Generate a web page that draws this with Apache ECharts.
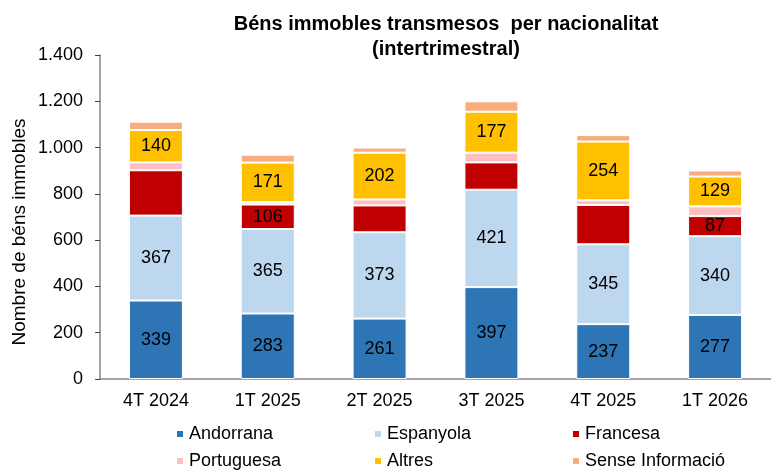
<!DOCTYPE html>
<html>
<head>
<meta charset="utf-8">
<script src="https://cdn.jsdelivr.net/npm/echarts@6/dist/echarts.min.js"></script>
<style>
  html, body { margin: 0; padding: 0; background: #fff; }
  #chart { width: 771px; height: 470px; }
</style>
</head>
<body>
<div id="chart"></div>
<script>
const categories = ["4T 2024", "1T 2025", "2T 2025", "3T 2025", "4T 2025", "1T 2026"];

const andorrana = [339, 283, 261, 397, 237, 277];
const espanyola = [367, 365, 373, 421, 345, 340];
const francesa = [196, 106, 116, 118, 170, 87];
const portuguesa = [34, 10, 26, 42, 20, 42];
const altres = [140, 171, 202, 177, 254, 129];
const senseInfo = [36, 34, 22, 45, 28, 26];

// only these Francesa values carry a label in the original
const francesaLabelIdx = [1, 5];

const yTicks = [0, 200, 400, 600, 800, 1000, 1200, 1400];

const font = "Liberation Sans, Arial, sans-serif";

const fmtThousands = v => String(v).replace(/\B(?=(\d{3})+(?!\d))/g, ".");

const labelStyle = {
    show: true,
    position: "inside",
    color: "#000",
    fontSize: 18,
    fontFamily: font
};

function barSeries(name, data, color, withLabel) {
    return {
        name: name,
        type: "bar",
        stack: "total",
        barWidth: 54,
        data: data,
        itemStyle: { color: color, borderColor: "#fff", borderWidth: 1 },
        label: withLabel ? labelStyle : { show: false }
    };
}

// one legend per entry: 3 columns x 2 rows like the original
function legendAt(name, left, top) {
    return {
        data: [name],
        left: left,
        top: top,
        padding: 0,
        itemWidth: 8,
        itemHeight: 8,
        icon: "rect",
        textStyle: { fontSize: 18, fontFamily: font, color: "#000", padding: [0, 0, 0, 0] }
    };
}

const chart = echarts.init(document.getElementById("chart"));

const option = {
    animation: false,
    backgroundColor: "#fff",
    title: {
        text: "Béns immobles transmesos  per nacionalitat\n(intertrimestral)",
        left: 441,
        textAlign: "center",
        top: 7,
        textStyle: { fontSize: 20, fontWeight: "bold", fontFamily: font, color: "#000", lineHeight: 25 }
    },
    legend: [
        legendAt("Andorrana", 175, 425),
        legendAt("Espanyola", 373, 425),
        legendAt("Francesa", 571, 425),
        legendAt("Portuguesa", 175, 452),
        legendAt("Altres", 373, 452),
        legendAt("Sense Informació", 571, 452)
    ],
    graphic: [{
        type: "text",
        x: 10,
        y: 232,
        rotation: Math.PI / 2,
        style: {
            text: "Nombre de béns immobles",
            fontSize: 19,
            fontFamily: font,
            fill: "#000",
            align: "center",
            verticalAlign: "top"
        }
    }],
    grid: { left: 100, top: 55, width: 672, height: 324 },
    xAxis: {
        type: "category",
        data: categories,
        axisLine: { lineStyle: { color: "#868686", width: 1.5 } },
        axisTick: { length: 5, lineStyle: { color: "#404040" } },
        axisLabel: { fontSize: 18, fontFamily: font, color: "#000", margin: 13 }
    },
    yAxis: {
        type: "value",
        min: yTicks[0],
        max: yTicks[yTicks.length - 1],
        interval: 200,
        splitLine: { show: false },
        axisLine: { show: true, lineStyle: { color: "#868686", width: 1.5 } },
        axisTick: { show: true, length: 5, lineStyle: { color: "#404040" } },
        axisLabel: { fontSize: 18, fontFamily: font, color: "#000", margin: 17, formatter: fmtThousands }
    },
    series: [
        barSeries("Andorrana", andorrana, "#2E75B6", true),
        barSeries("Espanyola", espanyola, "#BDD7EE", true),
        barSeries("Francesa", francesa.map((v, i) => ({
            value: v,
            label: { show: francesaLabelIdx.includes(i) }
        })), "#C00000", false),
        barSeries("Portuguesa", portuguesa, "#FFBFC1", false),
        barSeries("Altres", altres, "#FFC000", true),
        barSeries("Sense Informació", senseInfo, "#F8AD80", false)
    ]
};

// Francesa labels are switched on per item, so give the series the label style
option.series[2].label = Object.assign({}, labelStyle, { show: false });

chart.setOption(option);
</script>
</body>
</html>
